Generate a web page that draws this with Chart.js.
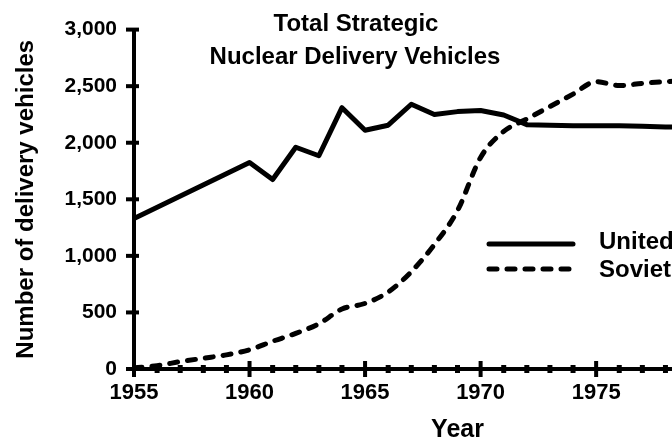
<!DOCTYPE html>
<html><head><meta charset="utf-8">
<script src="https://cdn.jsdelivr.net/npm/chart.js@4/dist/chart.umd.min.js"></script>
<style>
html,body{margin:0;padding:0;overflow:hidden;background:#fff;width:672px;height:445px}
#wrap{width:781px;height:445px}
canvas{display:block}
</style></head><body><div id="wrap"><canvas id="c" width="781" height="445"></canvas></div>
<script>
const usYears = [1955,1960,1961,1962,1963,1964,1965,1966,1967,1968,1969,1970,1971,1972,1973,1974,1975,1976,1977,1978,1979];
const usVehicles = [1330,1825,1675,1960,1885,2310,2110,2155,2340,2250,2275,2285,2245,2160,2155,2150,2150,2150,2145,2140,2140];
const ussrYears = [1955,1956,1957,1958,1959,1960,1961,1962,1963,1964,1965,1966,1967,1968,1969,1970,1971,1972,1973,1974,1975,1976,1977,1978,1979];
const ussrVehicles = [10,30,65,95,125,170,245,315,400,530,580,680,860,1100,1400,1870,2100,2210,2320,2430,2540,2505,2525,2540,2550];
const xTicks = [1955,1960,1965,1970,1975,1980];
const yTicks = [0,500,1000,1500,2000,2500,3000];
const seriesNames = ['United States','Soviet Union'];
const titleLines = ['Total Strategic','Nuclear Delivery Vehicles'];
const xTitle = 'Year';
const yTitle = 'Number of delivery vehicles';

const FAM = '"Liberation Sans", Arial, Helvetica, sans-serif';
const DASH = [8,10];

const decor = {
  id:'decor',
  afterDraw(chart){
    const {ctx, scales:{x, y}} = chart;
    ctx.save();
    ctx.strokeStyle = '#000';
    ctx.lineCap = 'butt';
    const y0 = y.getPixelForValue(0);
    for (let yr = Math.ceil(x.min); yr <= x.max; yr++) {
      const px = x.getPixelForValue(yr);
      const major = xTicks.includes(yr);
      ctx.lineWidth = major ? 4 : 5;
      ctx.beginPath();
      ctx.moveTo(px, y0 - (major ? 8 : 4));
      ctx.lineTo(px, y0 + (major ? 8 : 4));
      ctx.stroke();
    }
    const x0 = x.getPixelForValue(x.min);
    yTicks.forEach(v => {
      const py = y.getPixelForValue(v);
      ctx.lineWidth = 4;
      ctx.beginPath(); ctx.moveTo(x0 - 8, py); ctx.lineTo(x0 + 5, py); ctx.stroke();
    });
    // title
    ctx.fillStyle = '#000';
    ctx.font = 'bold 24px ' + FAM;
    ctx.textAlign = 'center';
    ctx.textBaseline = 'middle';
    ctx.fillText(titleLines[0], 356, 24);
    ctx.fillText(titleLines[1], 355, 57);
    // legend
    ctx.lineWidth = 5;
    ctx.lineCap = 'round';
    ctx.beginPath(); ctx.moveTo(489, 244); ctx.lineTo(573, 244); ctx.stroke();
    ctx.setLineDash(DASH);
    ctx.beginPath(); ctx.moveTo(489, 269); ctx.lineTo(573, 269); ctx.stroke();
    ctx.setLineDash([]);
    ctx.font = 'bold 24px ' + FAM;
    ctx.textAlign = 'left';
    ctx.fillText(seriesNames[0], 599, 242);
    ctx.fillText(seriesNames[1], 599, 270);
    ctx.restore();
  }
};

new Chart(document.getElementById('c'), {
  type: 'line',
  data: {
    datasets: [
      { label: seriesNames[0], data: usYears.map((v,i)=>({x:v, y:usVehicles[i]})),
        borderColor:'#000', borderWidth:5, pointRadius:0, tension:0,
        borderJoinStyle:'round', borderCapStyle:'round', fill:false },
      { label: seriesNames[1], data: ussrYears.map((v,i)=>({x:v, y:ussrVehicles[i]})),
        borderColor:'#000', borderWidth:5, pointRadius:0, cubicInterpolationMode:'monotone',
        borderDash: DASH, borderJoinStyle:'round', borderCapStyle:'round', fill:false }
    ]
  },
  options: {
    responsive:false, animation:false, devicePixelRatio:1,
    layout:{padding:{top:25, right:0, bottom:0, left:0}},
    plugins:{legend:{display:false}, tooltip:{enabled:false}},
    scales:{
      x:{
        type:'linear', min:1955, max:1983,
        afterFit(s){ s.height = 76; },
        afterBuildTicks(s){ s.ticks = xTicks.map(v=>({value:v})); },
        ticks:{ color:'#000', font:{family:FAM, size:22, weight:'bold'}, padding:11, maxRotation:0, autoSkip:false, callback:v=>String(v) },
        grid:{display:false, drawTicks:false},
        border:{display:true, color:'#000', width:4},
        title:{display:true, text:xTitle, color:'#000', font:{family:FAM, size:25, weight:'bold'}, padding:{top:0, bottom:0}}
      },
      y:{
        min:0, max:3000,
        afterFit(s){ s.width = 134; },
        afterBuildTicks(s){ s.ticks = yTicks.map(v=>({value:v})); },
        ticks:{ color:'#000', font:{family:FAM, size:21, weight:'bold'}, padding:17, callback:v=>v.toLocaleString('en-US') },
        grid:{display:false, drawTicks:false},
        border:{display:true, color:'#000', width:4},
        title:{display:true, text:yTitle, color:'#000', font:{family:FAM, size:24, weight:'bold'}, padding:{top:12, bottom:0}}
      }
    }
  },
  plugins:[decor]
});
</script>
</body></html>
